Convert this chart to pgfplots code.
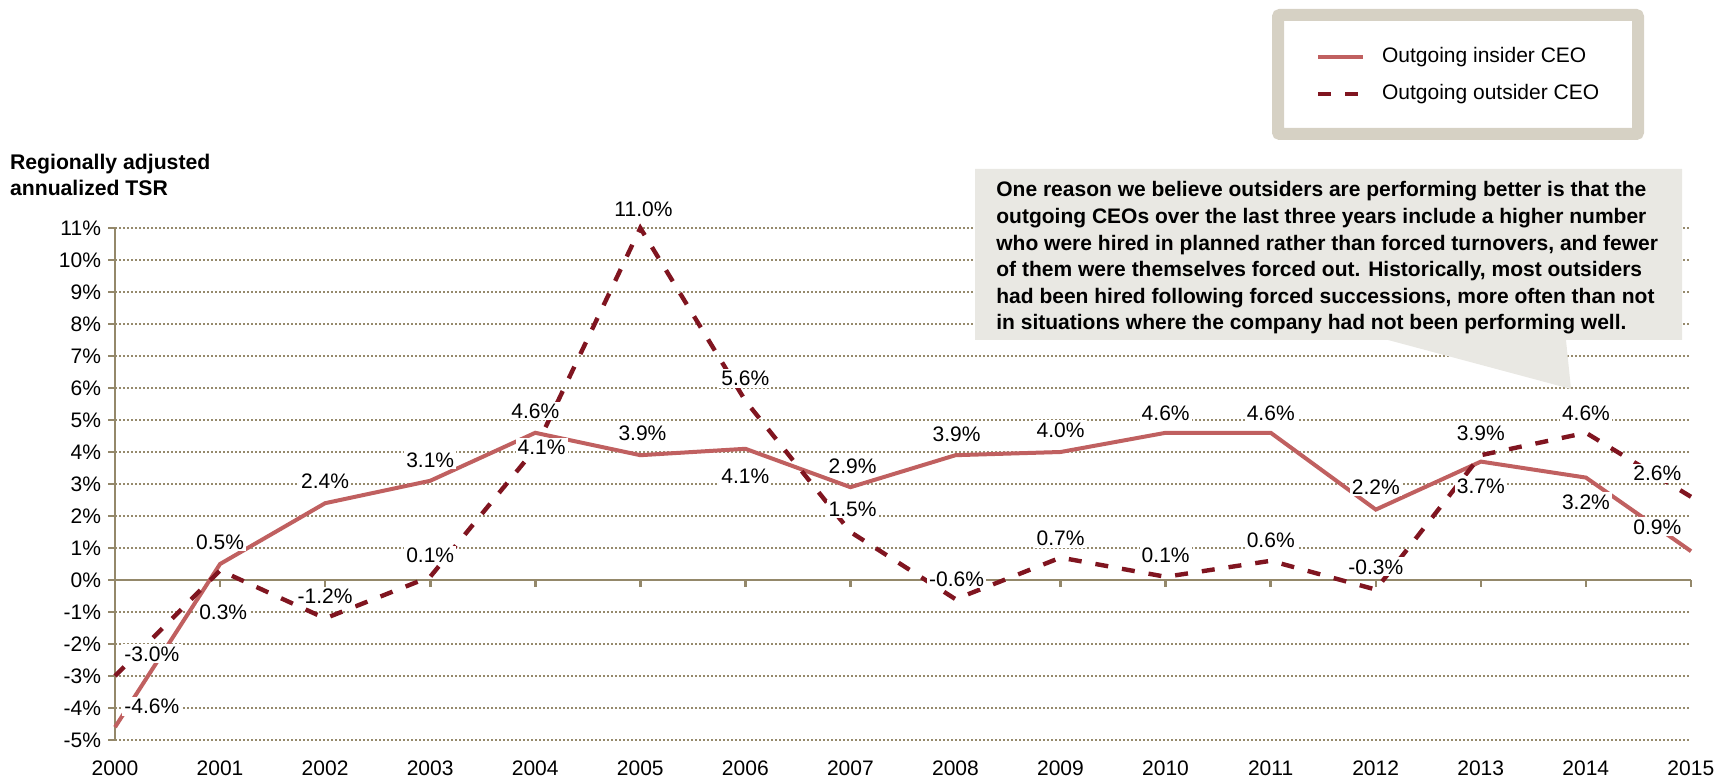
\documentclass[border=0pt]{standalone}
\usepackage{fontspec}
\setmainfont{Liberation Sans}
\usepackage{pgfplots}
\pgfplotsset{compat=1.18}

\definecolor{insider}{RGB}{192,96,96}
\definecolor{outsider}{RGB}{128,21,32}
\definecolor{axiscol}{RGB}{148,136,106}
\definecolor{gridcol}{RGB}{150,138,108}
\definecolor{legbord}{RGB}{214,209,196}
\definecolor{callfill}{RGB}{233,232,227}

\newcommand\fs{\fontsize{10.5}{12.6}\selectfont}
\newcommand\lab[3]{\node[fill=white, inner sep=1pt, font=\fs] at (axis cs:#1,#2) {#3};}

\begin{document}
\begin{tikzpicture}
\path[use as bounding box] (0pt,0pt) rectangle (857.5pt,390.5pt);

% y title
\node[anchor=west, align=left, font=\bfseries\fontsize{10.6}{13}\selectfont] at (1.5pt,303pt)
  {Regionally adjusted\\annualized TSR};

% legend
\draw[legbord, line width=6pt, rounded corners=1pt] (639pt,323.5pt) rectangle (819pt,383pt);
\draw[insider, line width=2pt] (659pt,362pt) -- (681.5pt,362pt);
\draw[outsider, line width=2.2pt, dash pattern=on 6.5pt off 7pt] (659pt,343.5pt) -- (681.5pt,343.5pt);
\node[anchor=west, font=\fs] at (687.5pt,362pt) {Outgoing insider CEO};
\node[anchor=west, font=\fs] at (687.5pt,343.5pt) {Outgoing outsider CEO};

\begin{axis}[
    at={(57.5pt,20.5pt)}, anchor=south west,
    width=788pt, height=256pt, scale only axis,
    xmin=2000, xmax=2015, ymin=-5, ymax=11,
    clip=false,
    axis y line=left, axis x line=bottom,
    x axis line style={draw=none},
    y axis line style={axiscol, line width=1.3pt, -},
    xtick={2000,...,2015},
    xticklabels={2000,2001,2002,2003,2004,2005,2006,2007,2008,2009,2010,2011,2012,2013,2014,2015},
    x tick style={draw=none},
    xticklabel style={yshift=-3.5pt},
    ytick={-5,...,11},
    yticklabels={-5\%,-4\%,-3\%,-2\%,-1\%,0\%,1\%,2\%,3\%,4\%,5\%,6\%,7\%,8\%,9\%,10\%,11\%},
    y tick style={axiscol, line width=1.3pt},
    tick align=outside, major tick length=3.5pt,
    ymajorgrids,
    grid style={gridcol, line width=1pt, dash pattern=on 1pt off 1pt},
    ticklabel style={font=\fs, text=black},
]
% zero line with ticks
\draw[axiscol, line width=1.3pt] (axis cs:2000,0) -- (axis cs:2015,0);
\pgfplotsinvokeforeach{2000,...,2015}{
  \draw[axiscol, line width=1.3pt] (axis cs:#1,0) -- ++(0pt,-3.5pt);
}

% Outgoing insider CEO
\addplot[insider, line width=2pt] coordinates {
  (2000,-4.6) (2001,0.5) (2002,2.4) (2003,3.1) (2004,4.6) (2005,3.9)
  (2006,4.1) (2007,2.9) (2008,3.9) (2009,4.0) (2010,4.6) (2011,4.6)
  (2012,2.2) (2013,3.7) (2014,3.2) (2015,0.9)
};
% Outgoing outsider CEO
\addplot[outsider, line width=2.2pt, dash pattern=on 6.5pt off 7pt] coordinates {
  (2000,-3.0) (2001,0.3) (2002,-1.2) (2003,0.1) (2004,4.1) (2005,11.0)
  (2006,5.6) (2007,1.5) (2008,-0.6) (2009,0.7) (2010,0.1) (2011,0.6)
  (2012,-0.3) (2013,3.9) (2014,4.6) (2015,2.6)
};

% data labels
\lab{2000.35}{-2.31}{-3.0\%}
\lab{2000.35}{-3.94}{-4.6\%}
\lab{2001.03}{-1.00}{0.3\%}
\lab{2002.0}{-0.50}{-1.2\%}
\lab{2001.0}{1.19}{0.5\%}
\lab{2002.0}{3.09}{2.4\%}
\lab{2003.0}{3.75}{3.1\%}
\lab{2003.0}{0.78}{0.1\%}
\lab{2005.03}{11.59}{11.0\%}
\lab{2004.0}{5.28}{4.6\%}
\lab{2004.06}{4.16}{4.1\%}
\lab{2005.02}{4.59}{3.9\%}
\lab{2006.0}{6.31}{5.6\%}
\lab{2006.0}{3.25}{4.1\%}
\lab{2007.02}{3.56}{2.9\%}
\lab{2007.02}{2.22}{1.5\%}
\lab{2008.01}{4.56}{3.9\%}
\lab{2008.01}{0.03}{-0.6\%}
\lab{2009.0}{4.69}{4.0\%}
\lab{2009.0}{1.31}{0.7\%}
\lab{2010.0}{5.22}{4.6\%}
\lab{2010.0}{0.78}{0.1\%}
\lab{2011.0}{5.22}{4.6\%}
\lab{2011.0}{1.25}{0.6\%}
\lab{2012.0}{2.91}{2.2\%}
\lab{2012.0}{0.41}{-0.3\%}
\lab{2013.0}{4.59}{3.9\%}
\lab{2013.0}{2.94}{3.7\%}
\lab{2014.0}{5.22}{4.6\%}
\lab{2014.0}{2.44}{3.2\%}
\lab{2014.68}{3.34}{2.6\%}
\lab{2014.68}{1.66}{0.9\%}
\end{axis}

% callout
\fill[callfill] (487.5pt,220.5pt) -- (694pt,220.5pt) -- (785.5pt,196pt) -- (783pt,220.5pt)
  -- (841pt,220.5pt) -- (841pt,306pt) -- (487.5pt,306pt) -- cycle;
\node[anchor=west, align=left, inner sep=0pt,
      font=\bfseries\fontsize{10.5}{13.3}\selectfont] at (498pt,261.5pt)
  {One reason we believe outsiders are performing better is that the\\
   outgoing CEOs over the last three years include a higher number\\
   who were hired in planned rather than forced turnovers, and fewer\\
   of them were themselves forced out. Historically, most outsiders\\
   had been hired following forced successions, more often than not\\
   in situations where the company had not been performing well.};
\end{tikzpicture}
\end{document}
